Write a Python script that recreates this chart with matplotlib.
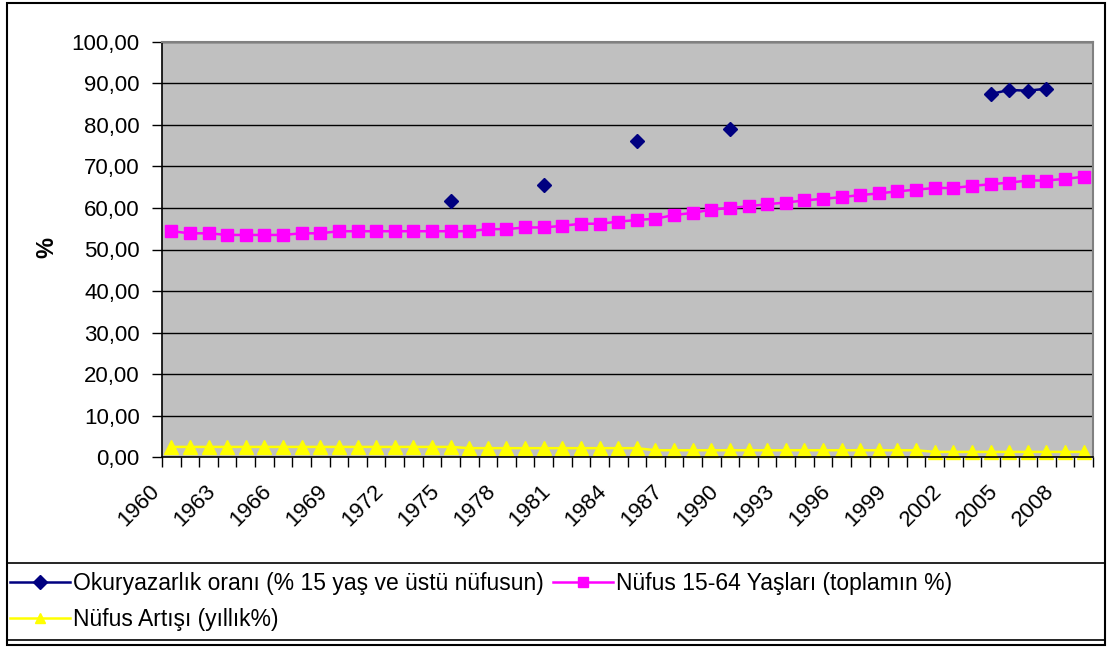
import matplotlib
matplotlib.use("Agg")
import matplotlib.pyplot as plt
import matplotlib.transforms as mtransforms
import numpy as np
from matplotlib.patches import Rectangle
from matplotlib.ticker import FuncFormatter, MultipleLocator

plt.rcParams['font.family'] = ['Liberation Sans', 'DejaVu Sans']

years = list(range(1960, 2010))
nan = np.nan

# Okuryazarlik orani (% 15 yas ve ustu nufusun) - only some years available
literacy = [nan] * 50
literacy_years = [1975, 1980, 1985, 1990, 2004, 2005, 2006, 2007]
literacy_vals = [61.6, 65.5, 76.2, 79.1, 87.4, 88.4, 88.2, 88.7]
for yr, v in zip(literacy_years, literacy_vals):
    literacy[yr - 1960] = v

# Nufus 15-64 yaslari (toplamin %)
pop1564 = [54.4, 53.9, 53.9, 53.5, 53.5, 53.5, 53.5, 53.9, 53.9, 54.4,
           54.4, 54.4, 54.4, 54.4, 54.4, 54.4, 54.4, 54.9, 54.9, 55.3,
           55.3, 55.7, 56.2, 56.2, 56.7, 57.1, 57.4, 58.3, 58.8, 59.6,
           60.0, 60.4, 60.9, 61.3, 61.8, 62.2, 62.6, 63.1, 63.5, 64.0,
           64.4, 64.8, 64.8, 65.3, 65.7, 66.1, 66.6, 66.6, 67.0, 67.5]

# Nufus artisi (yillik%)
growth = [2.5] * 16 + [2.2] * 10 + [1.7] * 15 + [1.3] * 9

labels = ['Okuryazarlık oranı (% 15 yaş ve üstü nüfusun)',
          'Nüfus 15-64 Yaşları (toplamın %)',
          'Nüfus Artışı (yıllık%)']

W, H = 1108, 648
fig = plt.figure(figsize=(W / 100, H / 100), dpi=100)
ax = fig.add_axes([162 / W, 1 - 457.3 / H, 931 / W, 415.6 / H])
ax.set_facecolor('#C0C0C0')

x = np.arange(len(years))
l1, = ax.plot(x, literacy, color='#000080', marker='D', ms=7.5, lw=1.8,
              mec='#000080', mfc='#000080')
l2, = ax.plot(x, pop1564, color='#FF00FF', marker='s', ms=8, lw=1.8,
              mec='#FF00FF', mfc='#FF00FF')
l3, = ax.plot(x, growth, color='#FFFF00', marker='^', ms=10, lw=1.8,
              mec='#FFFF00', mfc='#FFFF00', clip_on=False)

ax.set_ylim(0, 100)
ax.set_xlim(-0.5, len(years) - 0.5)
ax.yaxis.set_major_locator(MultipleLocator(10))
ax.yaxis.set_major_formatter(FuncFormatter(lambda v, p: f'{v:.2f}'.replace('.', ',')))
ax.grid(axis='y', color='black', lw=1)
ax.set_axisbelow(True)

ax.set_xticks(x[::3])
ax.set_xticklabels([str(y) for y in years[::3]], rotation=45, ha='right',
                   rotation_mode='anchor')
ax.set_xticks(np.arange(-0.5, len(years)), minor=True)
ax.tick_params(axis='x', which='major', length=0, pad=17, labelsize=16)
ax.tick_params(axis='x', which='minor', length=7, width=1)
ax.tick_params(axis='y', length=7, width=1, labelsize=16, pad=9)

shift = mtransforms.ScaledTranslation(-0.22, 0, fig.dpi_scale_trans)
for lab in ax.get_xticklabels():
    lab.set_transform(lab.get_transform() + shift)

for s in ['top', 'right']:
    ax.spines[s].set_color('#808080')
    ax.spines[s].set_linewidth(1.5)
for s in ['left', 'bottom']:
    ax.spines[s].set_color('black')
    ax.spines[s].set_linewidth(1.2)

fig.text(47 / W, 1 - 248 / H, '%', rotation=90, fontsize=17, fontweight='bold',
         ha='center', va='center')

# outer chart border and legend box
fig.patches.append(Rectangle((7 / W, 3 / H), 1098 / W, 642 / H, fill=False,
                             ec='black', lw=1.5, transform=fig.transFigure))
fig.patches.append(Rectangle((7 / W, 8 / H), 1098 / W, 77 / H, fill=False,
                             ec='black', lw=1.2, transform=fig.transFigure))

leg = fig.legend([l1, l3, l2], [labels[0], labels[2], labels[1]], ncol=2,
                 loc='upper left', bbox_to_anchor=(10 / W, 1 - 572 / H),
                 frameon=False, fontsize=16.5, handlelength=2.6,
                 handletextpad=0.15, columnspacing=0.4, labelspacing=0.55,
                 borderpad=0, borderaxespad=0)
for h in leg.legend_handles:
    h.set_markersize(7)

fig.savefig('out.png', dpi=100)
